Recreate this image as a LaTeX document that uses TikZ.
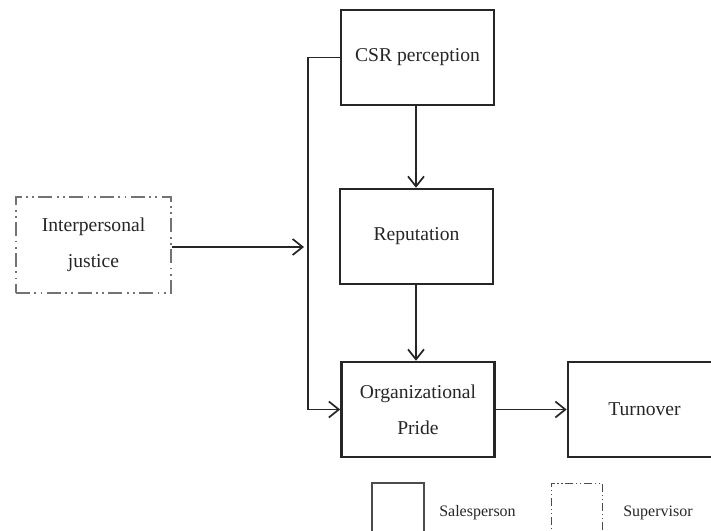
\documentclass[tikz,border=0pt]{standalone}
\usepackage{fontspec}
\setmainfont{Liberation Serif}
\usetikzlibrary{arrows.meta}
\tikzset{
  box/.style={draw=black!85, line width=1.3pt, minimum width=76.5pt, minimum height=47.5pt, align=center, font=\fontsize{9.8}{18}\selectfont, inner sep=2pt, text=black!85},
  supbox/.style={draw=black!55, line width=1.2pt, dash pattern=on 7pt off 2.2pt on 0.9pt off 2.2pt on 0.9pt off 2.2pt, minimum width=77.5pt, minimum height=48pt, align=center, font=\fontsize{9.8}{18}\selectfont, inner sep=2pt, text=black!85},
  legsal/.style={draw=black!70, line width=0.6pt, minimum width=26pt, minimum height=26pt, inner sep=0pt},
  legsup/.style={draw=black!70, line width=0.5pt, dash pattern=on 4pt off 1.4pt on 0.6pt off 1.4pt on 0.6pt off 1.4pt, minimum width=25.5pt, minimum height=26pt, inner sep=0pt},
  legtext/.style={font=\fontsize{8}{10}\selectfont, text=black!85, inner sep=0pt},
  conn/.style={draw=black!85, line width=0.85pt},
  arr/.style={conn, -{Straight Barb[length=5pt, width=8pt, line width=0.85pt]}},
}
\begin{document}
\begin{tikzpicture}[x=0.5pt, y=-0.5pt]
\useasboundingbox (0,0) rectangle (711,530);
\clip (0,0) rectangle (711,530);
\node[box] (csr) at (417.5,57.5) {CSR perception};
\node[box] (rep) at (416.5,236.5) {Reputation};
\node[box] (op) at (418,409.5) {Organizational\\Pride};
\node[box] (to) at (644.5,409.5) {Turnover};
\node[supbox] (ij) at (93.5,245) {Interpersonal\\justice};
\coordinate (vt) at (308,57.5);
\coordinate (vm) at (308,247);
\coordinate (vb) at (308,409.5);
\draw[conn] (csr.west) -- (vt) -- (vb);
\draw[arr] (vb) -- (op.west);
\draw[arr] (ij.east |- vm) -- ([xshift=-2pt]vm);
\draw[arr] (csr.south -| 416,0) -- (rep.north -| 416,0);
\draw[arr] (rep.south -| 416,0) -- (op.north -| 416,0);
\draw[arr] (op.east) -- (to.west);
\node[legsal] (ls) at (398,509) {};
\node[legtext] (lst) at (477.5,513) {Salesperson};
\node[legsup] (lp) at (576.5,509) {};
\node[legtext] (lpt) at (658,513) {Supervisor};
\end{tikzpicture}
\end{document}
